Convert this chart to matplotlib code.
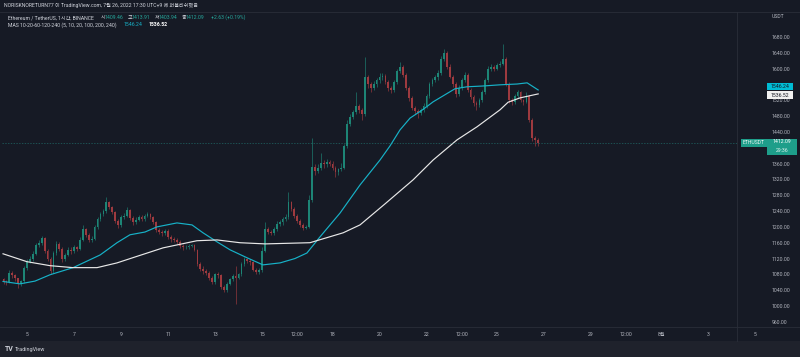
import matplotlib.pyplot as plt
import numpy as np
from matplotlib.patches import Rectangle
from matplotlib.lines import Line2D

# ETHUSDT, 3-hour candles (open = previous close)
FIRST_OPEN = 1072
CLOSES = [
    1068, 1062, 1060, 1084, 1078, 1070, 1055, 1062,
    1095, 1112, 1120, 1132, 1155, 1160, 1172, 1140,
    1120, 1088, 1135, 1158, 1145, 1118, 1130, 1142,
    1138, 1148, 1145, 1168, 1195, 1180, 1168, 1170,
    1200, 1220, 1232, 1240, 1262, 1250, 1238, 1215,
    1205, 1225, 1228, 1242, 1222, 1212, 1218, 1225,
    1220, 1228, 1232, 1225, 1212, 1192, 1188, 1185,
    1190, 1175, 1170, 1168, 1162, 1152, 1148, 1150,
    1152, 1155, 1142, 1105, 1094, 1088, 1084, 1072,
    1060, 1080, 1078, 1048, 1040, 1056, 1068, 1075,
    1072, 1080, 1106, 1118, 1115, 1110, 1092, 1085,
    1090, 1140, 1195, 1188, 1185, 1195, 1208, 1212,
    1220, 1225, 1262, 1245, 1228, 1215, 1205, 1198,
    1200, 1268, 1352, 1340, 1350, 1362, 1358, 1365,
    1360, 1350, 1338, 1345, 1350, 1405, 1460, 1478,
    1490, 1505, 1495, 1485, 1580, 1560, 1550, 1560,
    1570, 1578, 1582, 1565, 1550, 1545, 1565, 1595,
    1605, 1585, 1550, 1525, 1500, 1492, 1488, 1495,
    1505, 1530, 1560, 1570, 1578, 1590, 1625, 1640,
    1605, 1580, 1560, 1535, 1552, 1570, 1585, 1545,
    1528, 1512, 1508, 1520, 1540, 1570, 1600, 1605,
    1600, 1608, 1612, 1625, 1560, 1520, 1515, 1530,
    1540, 1520, 1515, 1530, 1470, 1425, 1420, 1412,
]
HIGHS = [
    1078, 1072, 1066, 1092, 1088, 1080, 1072, 1066,
    1100, 1118, 1126, 1138, 1160, 1166, 1178, 1175,
    1145, 1125, 1138, 1165, 1162, 1150, 1135, 1148,
    1148, 1154, 1152, 1175, 1205, 1198, 1185, 1176,
    1204, 1226, 1238, 1246, 1276, 1266, 1254, 1240,
    1220, 1230, 1234, 1250, 1246, 1228, 1224, 1230,
    1230, 1233, 1238, 1236, 1228, 1215, 1196, 1192,
    1195, 1194, 1180, 1175, 1172, 1166, 1156, 1154,
    1156, 1158, 1157, 1145, 1110, 1100, 1094, 1088,
    1076, 1084, 1086, 1082, 1052, 1060, 1072, 1080,
    1100, 1084, 1110, 1125, 1122, 1118, 1114, 1096,
    1095, 1150, 1213, 1200, 1192, 1200, 1214, 1218,
    1226, 1232, 1288, 1266, 1250, 1232, 1220, 1210,
    1206, 1280, 1425, 1360, 1358, 1387, 1368, 1372,
    1370, 1366, 1355, 1350, 1362, 1410, 1470, 1484,
    1496, 1540, 1510, 1500, 1630, 1585, 1566, 1568,
    1576, 1590, 1588, 1586, 1570, 1556, 1570, 1600,
    1617, 1610, 1590, 1555, 1530, 1506, 1498, 1500,
    1512, 1536, 1566, 1576, 1585, 1596, 1632, 1650,
    1645, 1612, 1585, 1565, 1558, 1575, 1592, 1590,
    1550, 1533, 1518, 1525, 1546, 1575, 1606, 1612,
    1610, 1614, 1618, 1662, 1630, 1565, 1526, 1536,
    1545, 1544, 1524, 1540, 1534, 1474, 1430, 1424,
]
LOWS = [
    1062, 1056, 1052, 1058, 1072, 1064, 1045, 1050,
    1058, 1090, 1108, 1115, 1128, 1148, 1155, 1135,
    1115, 1080, 1084, 1130, 1140, 1110, 1114, 1126,
    1132, 1134, 1140, 1142, 1164, 1175, 1162, 1163,
    1166, 1195, 1215, 1228, 1236, 1244, 1232, 1210,
    1197, 1200, 1220, 1224, 1218, 1206, 1208, 1214,
    1215, 1216, 1224, 1220, 1208, 1188, 1182, 1178,
    1180, 1170, 1163, 1162, 1158, 1146, 1142, 1144,
    1145, 1148, 1138, 1100, 1088, 1082, 1078, 1066,
    1056, 1056, 1072, 1044, 1035, 1036, 1052, 1062,
    1005, 1068, 1076, 1100, 1108, 1104, 1088, 1080,
    1080, 1086, 1136, 1182, 1180, 1180, 1190, 1202,
    1206, 1214, 1220, 1240, 1222, 1210, 1200, 1192,
    1194, 1196, 1262, 1330, 1335, 1345, 1350, 1352,
    1355, 1345, 1325, 1332, 1340, 1346, 1400, 1455,
    1472, 1485, 1488, 1470, 1480, 1552, 1540, 1545,
    1554, 1564, 1572, 1560, 1544, 1538, 1540, 1560,
    1590, 1580, 1545, 1518, 1495, 1484, 1475, 1482,
    1490, 1500, 1525, 1555, 1565, 1572, 1585, 1618,
    1600, 1575, 1554, 1528, 1530, 1546, 1565, 1540,
    1522, 1505, 1495, 1502, 1515, 1535, 1565, 1595,
    1594, 1596, 1604, 1608, 1555, 1512, 1508, 1510,
    1525, 1515, 1508, 1512, 1465, 1418, 1405, 1405,
]

# moving averages (day of July, price)
MA_CYAN_T = [3.98, 4.70, 5.34, 5.98, 6.96, 8.11, 8.83, 9.38, 10.02, 10.53, 11.38,
             12.02, 12.49, 13.09, 13.64, 14.36, 15.04, 15.77, 16.40, 16.91, 17.47,
             18.32, 19.17, 20.02, 20.45, 20.87, 21.30, 21.81, 22.28, 23.21, 23.72,
             24.40, 25.13, 25.85, 26.28, 26.75]
MA_CYAN_V = [1062, 1056, 1063, 1079, 1097, 1129, 1160, 1180, 1187, 1200, 1210,
             1205, 1185, 1162, 1142, 1122, 1104, 1109, 1120, 1134, 1175,
             1235, 1306, 1369, 1405, 1445, 1475, 1495, 1516, 1549, 1554,
             1556, 1559, 1561, 1564, 1546]
MA_WHITE_T = [3.98, 5.00, 5.98, 6.96, 7.98, 8.83, 9.60, 10.79, 12.23, 13.09, 14.06,
              15.13, 17.04, 18.45, 19.17, 20.23, 21.43, 22.28, 23.30, 24.15, 25.13,
              25.47, 25.98, 26.75]
MA_WHITE_V = [1132, 1112, 1102, 1097, 1097, 1109, 1124, 1147, 1165, 1167, 1160,
              1157, 1160, 1185, 1205, 1258, 1319, 1369, 1420, 1453, 1496,
              1515, 1526, 1536]

LAST_PRICE = 1412.09
MA_CYAN_LAST = 1546.24
MA_WHITE_LAST = 1536.52

PRICE_TICKS = list(range(960, 1681, 40))
HIDDEN_TICKS = [1400, 1560]  # covered by the price labels on the scale
TIME_TICKS = [5, 7, 9, 11, 13, 15, 16.5, 18, 20, 22, 23.5, 25, 27, 29, 30.5, 32, 34, 36]
TIME_LABELS = ['5', '7', '9', '11', '13', '15', '12:00', '18', '20', '22', '12:00',
               '25', '27', '29', '12:00', '8월', '3', '5']

BG = '#161a25'
UP = '#1d8576'
DOWN = '#9e3a3f'
TXT = '#b2b5be'
FS = 3.7
plt.rcParams['font.family'] = ['Roboto', 'Noto Sans CJK KR', 'DejaVu Sans']

W, H = 800, 357


def fx(x):
    return x / W


def fy(y):
    return 1 - y / H


fig = plt.figure(figsize=(8, 3.57), dpi=100, facecolor=BG)
ax = fig.add_axes([fx(2), fy(327), (737 - 2) / W, (327 - 12) / H])
ax.set_facecolor(BG)

closes = np.array(CLOSES, dtype=float)
opens = np.r_[FIRST_OPEN, closes[:-1]]
highs = np.array(HIGHS, dtype=float)
lows = np.array(LOWS, dtype=float)
t = 3.875 + 0.125 * np.arange(len(closes))
cols = np.where(closes >= opens, UP, DOWN)

ax.vlines(t, lows, highs, colors=cols, linewidth=0.45)
ax.bar(t, np.maximum(np.abs(closes - opens), 1.5), bottom=np.minimum(opens, closes),
       width=0.075, color=cols, linewidth=0)

ax.plot(MA_CYAN_T, MA_CYAN_V, color='#17b2c8', lw=0.85)
ax.plot(MA_WHITE_T, MA_WHITE_V, color='#e8e8e8', lw=0.85)
ax.axhline(LAST_PRICE, color='#26a69a', lw=0.5, ls=(0, (2, 2)), alpha=0.55)

ax.set_xlim(3.936, 35.21)
ax.set_ylim(947, 1743)
for s in ax.spines.values():
    s.set_visible(False)
ax.set_xticks([])
ax.yaxis.tick_right()
ax.set_yticks(PRICE_TICKS)
ax.set_yticklabels(['' if v in HIDDEN_TICKS else f'{v:.2f}' for v in PRICE_TICKS])
ax.tick_params(axis='y', length=0, pad=25, labelsize=FS, labelcolor=TXT)

for d, lab in zip(TIME_TICKS, TIME_LABELS):
    ax.text(d, -8 / 315, lab, transform=ax.get_xaxis_transform(), ha='center',
            va='center', fontsize=FS, color=TXT, clip_on=False)

# frame lines and bottom band
fig.add_artist(Line2D([fx(737), fx(737)], [fy(12), fy(341)], color='#2a2e39', lw=0.6))
fig.add_artist(Line2D([0, 1], [fy(12), fy(12)], color='#2a2e39', lw=0.6))
fig.add_artist(Line2D([0, 1], [fy(327), fy(327)], color='#2a2e39', lw=0.6))
fig.add_artist(Rectangle((0, 0), 1, 16 / H, transform=fig.transFigure,
                         facecolor='#1f222c', edgecolor='none'))


def price_y(p):
    # pixel row of a price, from the axes' own transform
    fig.canvas.draw()
    return H - ax.transData.transform((0, p))[1]


def box(xl, xr, yc, h, fc, text, tc):
    fig.add_artist(Rectangle((fx(xl), fy(yc + h / 2)), (xr - xl) / W, h / H,
                             transform=fig.transFigure, facecolor=fc, edgecolor='none'))
    if text:
        fig.text(fx((xl + xr) / 2), fy(yc), text, ha='center', va='center',
                 fontsize=FS, color=tc)


yl = price_y(LAST_PRICE)
box(741, 767, yl, 8, '#1e9e8a', 'ETHUSDT', '#e8f5f2')
box(767, 797, yl + 4, 16, '#1e9e8a', '', '#ffffff')
fig.text(fx(782), fy(yl - 1), '1412.09', ha='center', va='center', fontsize=FS, color='#ffffff')
fig.text(fx(782), fy(yl + 7.8), '29:36', ha='center', va='center', fontsize=FS, color='#e0f2ef')
box(767, 793, price_y(MA_CYAN_LAST) - 3.5, 7.5, '#00bcd4', '1546.24', '#131722')
box(767, 793, price_y(MA_WHITE_LAST) + 1.5, 7.5, '#f0f0f0', '1536.52', '#131722')
fig.text(fx(772), fy(17), 'USDT', ha='left', va='center', fontsize=FS, color=TXT)

# header and legend
fig.text(fx(4), fy(6), 'NORISKNORETURN77 이 TradingView.com, 7월 26, 2022 17:30 UTC+9 에 퍼블리쉬했음',
         fontsize=FS, color='#d1d4dc', va='center')
fig.text(fx(8), fy(17.5), 'Ethereum / TetherUS, 1시간, BINANCE', fontsize=FS,
         color='#d1d4dc', va='center')
TEAL = '#26a69a'
for xk, k, xv, v in [(101, '시', 104.5, '1409.46'), (128, '고', 131.5, '1413.91'),
                     (155, '저', 158.5, '1403.94'), (182, '종', 185.5, '1412.09')]:
    fig.text(fx(xk), fy(17.5), k, fontsize=FS, color='#d1d4dc', va='center')
    fig.text(fx(xv), fy(17.5), v, fontsize=FS, color=TEAL, va='center')
fig.text(fx(211), fy(17.5), '+2.63 (+0.19%)', fontsize=FS, color=TEAL, va='center')
fig.text(fx(8), fy(25), 'MAS 10-20-60-120-240 (5, 10, 20, 100, 200, 240)', fontsize=FS,
         color='#d1d4dc', va='center')
fig.text(fx(124), fy(25), '1546.24', fontsize=FS, color='#17b2c8', va='center')
fig.text(fx(149), fy(25), '1536.52', fontsize=FS, color='#ffffff', va='center', fontweight='bold')

fig.text(fx(5), fy(349), 'TV', fontsize=5, color='#d1d4dc', va='center', fontweight='bold')
fig.text(fx(15), fy(349), 'TradingView', fontsize=4, color='#d1d4dc', va='center')

fig.savefig('out.png', dpi=100, facecolor=BG)
